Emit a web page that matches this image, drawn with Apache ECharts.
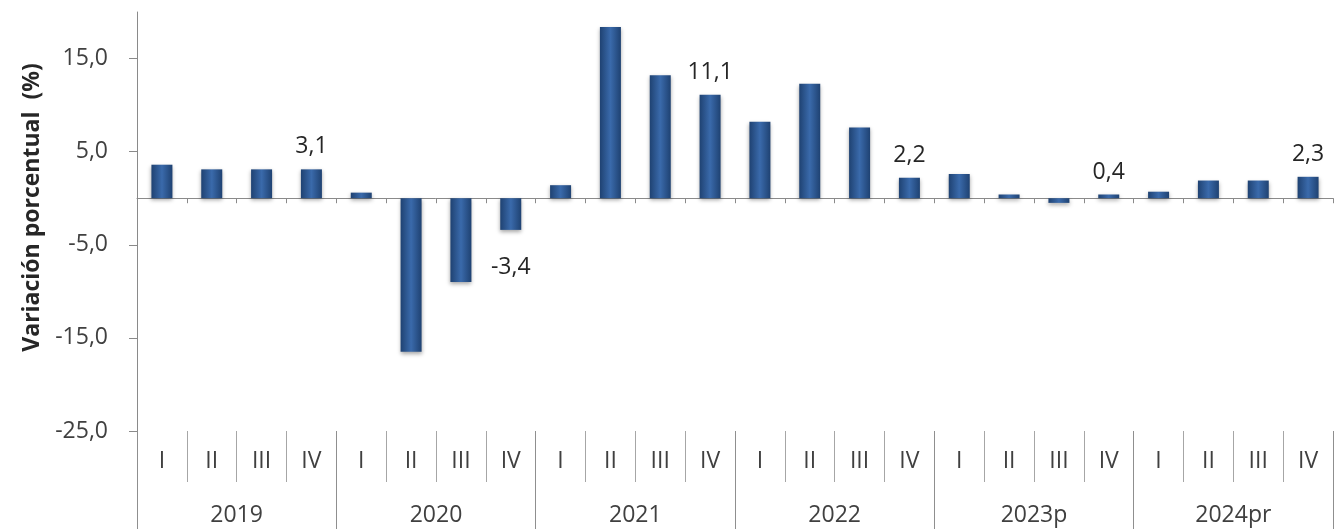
<!DOCTYPE html>
<html>
<head>
<meta charset="utf-8">
<script src="https://cdn.jsdelivr.net/npm/echarts@6/dist/echarts.min.js"></script>
<style>
html,body{margin:0;padding:0;background:#fff;}
#chart{width:1336px;height:529px;}
</style>
</head>
<body>
<div id="chart"></div>
<script>
// ---- data ----
const years = ['2019', '2020', '2021', '2022', '2023p', '2024pr'];
const quarters = ['I', 'II', 'III', 'IV'];
const values = [
  3.6, 3.1, 3.1, 3.1,
  0.6, -16.5, -9.0, -3.4,
  1.4, 18.4, 13.2, 11.1,
  8.2, 12.3, 7.6, 2.2,
  2.6, 0.4, -0.5, 0.4,
  0.7, 1.9, 1.9, 2.3
];
const labeledIdx = [3, 7, 11, 15, 19, 23];
const yTicks = [-25, -15, -5, 5, 15];
const yName = 'Variación porcentual  (%)';

// ---- build ----
const quarterCats = [];
years.forEach(() => quarters.forEach(q => quarterCats.push(q)));
const fmt = v => Number(v).toFixed(1).replace('.', ',');
const FONT = '"Open Sans", "Noto Sans", sans-serif';

const barColor = new echarts.graphic.LinearGradient(0, 0, 1, 0, [
  {offset: 0, color: '#1f4272'},
  {offset: 0.5, color: '#3a6aab'},
  {offset: 1, color: '#1f4272'}
]);

const seriesData = values.map((v, i) => {
  if (labeledIdx.indexOf(i) >= 0) {
    return {
      value: v,
      label: {
        show: true,
        position: v < 0 ? 'bottom' : 'top',
        distance: v < 0 ? 26 : 11
      }
    };
  }
  return v;
});

const chart = echarts.init(document.getElementById('chart'), null, {renderer: 'canvas'});
chart.setOption({
  animation: false,
  backgroundColor: '#ffffff',
  grid: {left: 137, right: 3, top: 12, bottom: 98, containLabel: false},
  xAxis: [
    {
      type: 'category', data: quarterCats, position: 'bottom',
      axisLine: {onZero: true, lineStyle: {color: '#8a8a8a', width: 1}},
      axisTick: {show: true, interval: 0, length: 5, lineStyle: {color: '#8a8a8a'}},
      axisLabel: {show: false}, splitLine: {show: false}
    },
    {
      type: 'category', data: quarterCats, position: 'bottom', offset: 0,
      axisLine: {show: false, onZero: false},
      axisTick: {show: true, interval: 0, length: 51, lineStyle: {color: '#a6a6a6'}},
      axisLabel: {show: true, interval: 0, margin: 19, fontSize: 23, color: '#404040', fontFamily: FONT},
      splitLine: {show: false}
    },
    {
      type: 'category', data: years, position: 'bottom', offset: 0,
      axisLine: {show: false, onZero: false},
      axisTick: {show: true, interval: 0, length: 100, lineStyle: {color: '#8f8f8f'}},
      axisLabel: {show: true, interval: 0, margin: 73, fontSize: 23, color: '#404040', fontFamily: FONT},
      splitLine: {show: false}
    }
  ],
  yAxis: {
    type: 'value', min: -25, max: 20, interval: 10,
    name: yName, nameLocation: 'middle', nameGap: 85,
    nameTextStyle: {fontSize: 23, fontWeight: 'bold', color: '#262626', fontFamily: FONT, padding: [0, 0, 0, 28]},
    axisLine: {show: true, lineStyle: {color: '#8a8a8a'}},
    axisTick: {show: true, length: 8, customValues: yTicks, lineStyle: {color: '#8a8a8a'}},
    axisLabel: {
      show: true, customValues: yTicks, margin: 29,
      fontSize: 23, color: '#404040', fontFamily: FONT,
      formatter: v => fmt(v)
    },
    splitLine: {show: false}
  },
  series: [{
    type: 'bar',
    xAxisIndex: 0,
    data: seriesData,
    barWidth: 21,
    itemStyle: {
      color: barColor,
      shadowColor: 'rgba(0,0,0,0.35)', shadowBlur: 4, shadowOffsetY: 2
    },
    label: {
      show: false,
      fontSize: 23, color: '#262626', fontFamily: FONT,
      formatter: p => fmt(p.value)
    }
  }]
});
</script>
</body>
</html>
